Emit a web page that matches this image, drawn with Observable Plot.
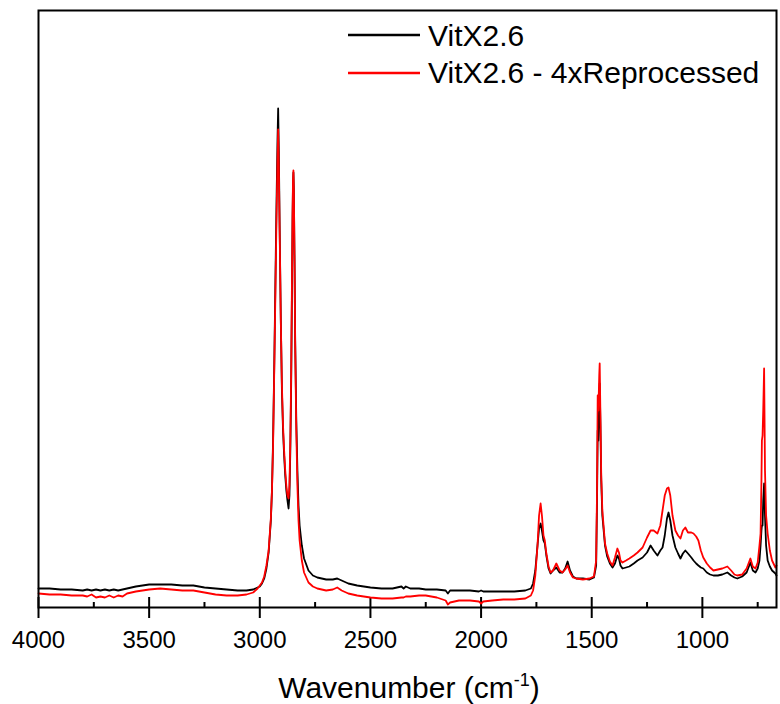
<!DOCTYPE html>
<html><head><meta charset="utf-8">
<script src="https://cdn.jsdelivr.net/npm/d3@7"></script>
<script src="https://cdn.jsdelivr.net/npm/@observablehq/plot@0.6"></script>
<style>body{margin:0;background:#fff;font-family:"Liberation Sans",Arial,sans-serif}</style>
</head><body><div id="chart"></div>
<script>
const wavenumber = [
 4000,3950,3900,3850,3800,3780,3760,3740,3720,3700,
 3680,3660,3640,3620,3600,3560,3500,3450,3400,3350,
 3300,3250,3200,3150,3100,3060,3030,3010,3000,2990,
 2980,2970,2960,2950,2945,2940,2935,2930,2925,2920,
 2917,2914,2910,2905,2900,2895,2890,2885,2880,2875,
 2870,2866,2862,2858,2855,2852,2850,2848,2846,2843,
 2840,2835,2830,2825,2820,2810,2800,2780,2760,2740,
 2720,2700,2670,2650,2630,2600,2560,2500,2450,2400,
 2360,2350,2340,2320,2280,2250,2200,2160,2150,2140,
 2100,2050,2010,2000,1990,1950,1900,1850,1800,1775,
 1765,1755,1745,1738,1731,1725,1718,1712,1705,1695,
 1686,1675,1660,1645,1632,1620,1609,1598,1585,1570,
 1540,1510,1490,1480,1476,1473,1470,1466,1464,1461,
 1457,1452,1440,1430,1418,1406,1395,1384,1377,1370,
 1361,1345,1330,1310,1293,1270,1250,1234,1220,1203,
 1190,1180,1170,1160,1153,1145,1135,1122,1110,1099,
 1088,1077,1065,1050,1040,1028,1018,1007,996,980,
 965,950,930,910,887,870,855,842,820,800,
 783,772,760,750,742,737,733,731,728,725,
 721,717,712,705,695,685,670,665
];
const vitX = [
 19,19,18,18,17,18,17,18,17,18,
 17,18,17,18,19,21,23,23,23,22,
 22,20,19,18,17,17,18,20,21,24,
 29,39,55,87,117,167,237,317,397,467,
 499,457,377,287,217,177,152,132,117,107,
 99,112,157,227,307,387,422,435,417,347,
 267,187,137,102,82,62,49,37,32,30,
 29,28,28,29,27,24,22,20,19,19,
 21,19,21,19,19,18,18,17,14,17,
 17,17,16,17,16,16,16,16,17,19,
 24,37,62,79,84,77,67,64,52,39,
 34,37,40,35,35,39,46,37,31,29,
 29,28,30,42,107,177,167,207,224,187,
 127,92,62,51,44,40,44,52,49,42,
 39,40,41,44,47,50,55,62,57,52,
 57,60,72,89,95,87,72,60,54,49,
 54,57,54,50,47,44,42,40,39,35,
 33,32,32,33,35,32,30,29,31,35,
 45,37,35,39,47,62,77,82,82,107,
 124,92,62,47,41,37,34,32
];
const vitXReprocessed = [
 14,13,13,12,12,11,13,10,11,10,
 12,10,12,11,14,16,18,19,18,17,
 17,15,13,12,12,13,15,19,22,25,
 31,42,57,89,117,162,232,307,382,447,
 478,442,372,287,222,182,157,137,122,112,
 109,122,167,237,317,392,427,437,417,347,
 262,177,122,87,67,47,35,25,21,19,
 18,17,18,20,17,14,12,10,9,9,
 10,10,11,11,12,12,10,7,3,5,
 7,7,6,4,6,7,8,8,9,12,
 17,32,62,92,104,92,72,67,54,41,
 35,37,44,37,35,38,42,35,30,29,
 28,29,31,47,117,212,197,232,244,197,
 132,97,64,54,46,42,50,59,55,47,
 45,47,49,52,55,60,70,77,77,74,
 82,97,112,119,120,112,92,77,72,69,
 77,80,75,75,74,71,67,57,50,44,
 40,37,38,39,41,37,33,32,33,39,
 49,41,39,45,62,74,127,167,172,197,
 239,137,92,74,57,47,40,42
];
const seriesNames = ["VitX2.6", "VitX2.6 - 4xReprocessed"];
const seriesColors = ["#000000", "#ff0000"];
const majorTicks = [4000, 3500, 3000, 2500, 2000, 1500, 1000];
const minorTicks = [3750, 3250, 2750, 2250, 1750, 1250, 750];

const black = wavenumber.map((w, i) => ({w, a: vitX[i]}));
const red = wavenumber.map((w, i) => ({w, a: vitXReprocessed[i]}));

const font = "'Liberation Sans', Arial, sans-serif";
const plot = Plot.plot({
  width: 780, height: 704,
  marginTop: 10, marginBottom: 97, marginLeft: 38, marginRight: 4,
  style: {fontFamily: font, background: "white", color: "black"},
  x: {domain: [4000, 665], label: null},
  y: {domain: [0, 597], axis: null},
  marks: [
    Plot.ruleX(majorTicks, {y1: 0, y2: 10, stroke: "black", strokeWidth: 2}),
    Plot.ruleX(minorTicks, {y1: 0, y2: 5, stroke: "black", strokeWidth: 2}),
    Plot.axisX({ticks: majorTicks, tickSize: 11, tickPadding: 12, fontSize: 24,
      tickFormat: d => String(d), strokeWidth: 2, label: null}),
    Plot.line(black, {x: "w", y: "a", stroke: seriesColors[0], strokeWidth: 1.8}),
    Plot.line(red, {x: "w", y: "a", stroke: seriesColors[1], strokeWidth: 1.8}),
    Plot.frame({stroke: "black", strokeWidth: 2})
  ]
});

const svg = d3.select(plot);
const lg = svg.append("g").attr("font-family", font).attr("font-size", 30)
  .attr("fill", "black").attr("text-anchor", "start");
seriesNames.forEach((n, i) => {
  lg.append("line").attr("x1", 348).attr("x2", 420)
    .attr("y1", 35 + 38 * i).attr("y2", 35 + 38 * i)
    .attr("stroke", seriesColors[i]).attr("stroke-width", 2.5);
  lg.append("text").attr("x", 428).attr("y", 46 + 37 * i).text(n);
});
const t = svg.append("text").attr("x", 409).attr("y", 698)
  .attr("text-anchor", "middle").attr("font-family", font).attr("font-size", 30).attr("fill", "black");
t.append("tspan").text("Wavenumber (cm");
t.append("tspan").attr("font-size", 18).attr("dy", -12).text("-1");
t.append("tspan").attr("dy", 12).text(")");

document.getElementById("chart").appendChild(plot);
</script>
</body></html>
